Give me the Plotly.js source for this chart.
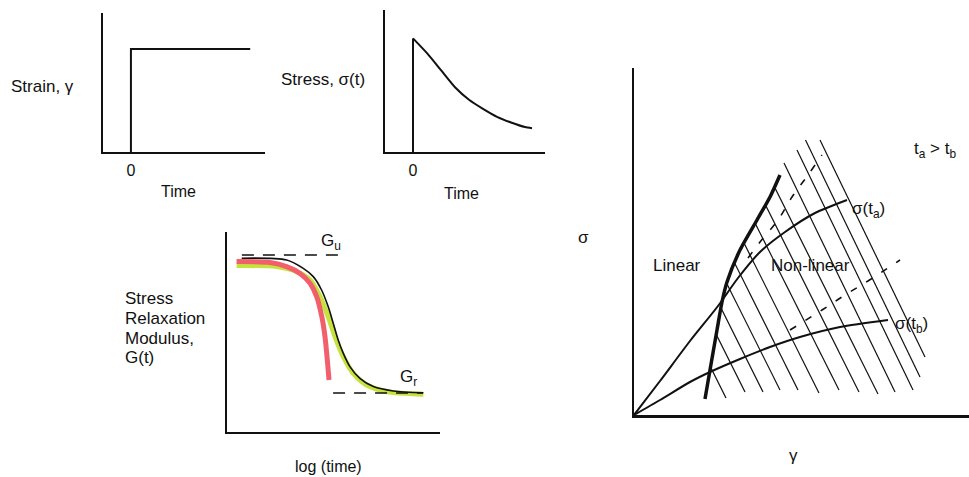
<!DOCTYPE html>
<html>
<head>
<meta charset="utf-8">
<script src="https://cdn.plot.ly/plotly-3.0.1.min.js"></script>
<style>html,body{margin:0;padding:0;background:#fff;}#chart{width:969px;height:477px;}</style>
</head>
<body>
<div id="chart"></div>
<script>
// ---------- Panel 1: step strain ----------
const strainTime  = [0, 0, 4.27];
const strainValue = [0, 1, 1];
const zeroTicks = [0];
const zeroTickText = ['0'];

// ---------- Panel 2: stress relaxation vs time ----------
const stressStepTime  = [0, 0];
const stressStepValue = [0, 1];
const stressTime  = [0, 0.5, 1, 1.5, 2, 2.5, 3, 3.5, 4, 4.25];
const stressValue = [1, 0.87, 0.72, 0.57, 0.46, 0.38, 0.31, 0.26, 0.22, 0.21];

// ---------- Panel 3: G(t) vs log(time) ----------
const logTimeBlack = [0.69, 2.80, 3.58, 4.05, 4.44, 4.75, 4.99, 5.22, 5.46, 5.77, 6.24, 6.87, 7.81, 9.22];
const modBlack     = [8.69, 8.60, 8.18, 7.77, 7.10, 6.27, 5.43, 4.60, 3.93, 3.27, 2.68, 2.27, 2.05, 1.96];
const logTimeRed   = [0.45, 2.02, 2.80, 3.43, 3.90, 4.21, 4.45, 4.60, 4.71, 4.79];
const modRed       = [8.52, 8.47, 8.27, 7.93, 7.43, 6.77, 5.77, 4.77, 3.60, 2.60];
const logTimeGreen = [0.45, 2.33, 3.27, 3.90, 4.37, 4.75, 5.07, 5.46, 5.93, 6.56, 7.50, 9.22];
const modGreen     = [8.32, 8.27, 8.02, 7.60, 6.77, 5.77, 4.77, 3.77, 2.93, 2.35, 2.02, 1.89];
const guTime = [0.70, 5.63], guValue = [8.85, 8.85];
const grTime = [4.98, 9.20], grValue = [1.95, 1.95];

// ---------- Panel 4: isochronal stress-strain ----------
const strainA = [0, 26, 56, 84, 104, 126, 151, 181, 213];
const sigmaA  = [0, 34, 74, 109, 137, 163, 183, 202, 215];
const strainB = [0, 26, 56, 76, 106, 136, 166, 206, 254];
const sigmaB  = [0, 15, 33, 43, 56, 68, 78, 88, 95];
const limitStrain = [71, 76, 83, 88, 93, 106, 123, 136, 146];
const limitSigma  = [16, 45, 85, 113, 133, 165, 195, 218, 240];
const dash1Strain = [114, 126, 144, 158, 174, 188];
const dash1Sigma  = [157, 173, 195, 218, 240, 260];
const dash2Strain = [156, 188, 211, 234, 266];
const dash2Sigma  = [85, 105, 120, 134, 155];
// hatch segments: top (strain, sigma) -> bottom (strain, sigma)
const hatchTopStrain = [76.5, 82, 87, 92.5, 100.6, 110, 121, 131.5, 140.5, 150, 163, 171.5, 186];
const hatchTopSigma  = [48, 81, 107, 132, 152, 172, 192, 210, 228, 252, 265, 275, 275];
const hatchBotStrain = [92, 111, 129, 146, 164, 185, 205, 225, 244, 261, 279, 286, 291];
const hatchBotSigma  = [17, 23, 23, 25, 25, 22, 25, 23, 21, 23, 25, 38, 58];

const INK = '#111';
const W = 969, H = 477;
const fx = p => p / W;
const fy = p => 1 - p / H;

const traces = [];
function line(x, y, xa, ya, width, extra) {
  traces.push({
    type: 'scatter', mode: 'lines', x: x, y: y, xaxis: xa, yaxis: ya,
    line: Object.assign({color: INK, width: width}, extra || {}),
    hoverinfo: 'skip'
  });
}

// panel 1
line(strainTime, strainValue, 'x', 'y', 2);
// panel 2
line(stressStepTime, stressStepValue, 'x2', 'y2', 2);
line(stressTime, stressValue, 'x2', 'y2', 2, {shape: 'spline', smoothing: 0.6});
// panel 3
line(logTimeGreen, modGreen, 'x3', 'y3', 5, {color: '#c6e23c', shape: 'spline', smoothing: 0.8});
line(logTimeRed, modRed, 'x3', 'y3', 5, {color: '#f25f6c', shape: 'spline', smoothing: 0.8});
line(logTimeBlack, modBlack, 'x3', 'y3', 1.6, {shape: 'spline', smoothing: 0.8});
line(guTime, guValue, 'x3', 'y3', 1.6, {dash: '12px,9px'});
line(grTime, grValue, 'x3', 'y3', 1.6, {dash: '12px,9px'});
// panel 4 hatching
for (let i = 0; i < hatchTopStrain.length; i++) {
  line([hatchTopStrain[i], hatchBotStrain[i]], [hatchTopSigma[i], hatchBotSigma[i]], 'x4', 'y4', 1.2);
}
line(dash1Strain, dash1Sigma, 'x4', 'y4', 1.6, {dash: '7px,11px', shape: 'spline'});
line(dash2Strain, dash2Sigma, 'x4', 'y4', 1.6, {dash: '7px,11px', shape: 'spline'});
line(strainA, sigmaA, 'x4', 'y4', 2, {shape: 'spline', smoothing: 0.7});
line(strainB, sigmaB, 'x4', 'y4', 2, {shape: 'spline', smoothing: 0.7});
line(limitStrain, limitSigma, 'x4', 'y4', 3.5, {shape: 'spline', smoothing: 0.7});

function axis(domain, range, anchor, extra) {
  return Object.assign({
    domain: domain, range: range, anchor: anchor,
    showline: true, linecolor: INK, linewidth: 2,
    showgrid: false, zeroline: false, showticklabels: false, ticks: '',
    fixedrange: true
  }, extra || {});
}
const FONT = 'Liberation Sans, Arial, sans-serif';
const tickZero = {
  showticklabels: true, tickvals: zeroTicks, ticktext: zeroTickText,
  ticks: 'outside', ticklen: 3, tickcolor: 'rgba(0,0,0,0)',
  tickfont: {family: FONT, size: 16, color: INK}
};

function ann(text, x, y, size, opts) {
  return Object.assign({
    text: text, x: fx(x), y: fy(y), xref: 'paper', yref: 'paper',
    showarrow: false, xanchor: 'center', yanchor: 'middle',
    font: {family: FONT, size: size, color: INK}
  }, opts || {});
}

const layout = {
  width: W, height: H,
  margin: {l: 0, r: 0, t: 0, b: 0},
  paper_bgcolor: '#fff', plot_bgcolor: 'rgba(0,0,0,0)',
  showlegend: false,
  font: {family: FONT, size: 16, color: INK},
  xaxis:  axis([fx(103), fx(265)], [-1, 4.8], 'y', tickZero),
  yaxis:  axis([fy(152), fy(13)], [0, 1.35], 'x'),
  xaxis2: axis([fx(385), fx(545)], [-1, 4.714], 'y2', tickZero),
  yaxis2: axis([fy(152), fy(10)], [0, 1.25], 'x2'),
  xaxis3: axis([fx(227), fx(440)], [0, 10], 'y3'),
  yaxis3: axis([fy(432), fy(232)], [0, 10], 'x3'),
  xaxis4: axis([fx(634), 1], [0, 335], 'y4', {linewidth: 2.5}),
  yaxis4: axis([fy(415), fy(68)], [0, 347], 'x4', {linewidth: 2.5}),
  annotations: [
    ann('Strain, γ', 42, 87, 17),
    ann('Time', 178, 191, 16),
    ann('Stress, σ(t)', 367, 79, 17, {xanchor: 'right'}),
    ann('Time', 461, 193, 16),
    ann('Stress', 123, 298, 17, {xanchor: 'left'}),
    ann('Relaxation', 123, 318, 17, {xanchor: 'left'}),
    ann('Modulus,', 123, 338, 17, {xanchor: 'left'}),
    ann('G(t)', 123, 357, 17, {xanchor: 'left'}),
    ann('log (time)', 328, 466, 16),
    ann('G<sub>u</sub>', 331, 242, 17),
    ann('G<sub>r</sub>', 408, 378, 17),
    ann('σ', 583, 237, 17),
    ann('γ', 793, 455, 17),
    ann('t<sub>a</sub> > t<sub>b</sub>', 935, 150, 17),
    ann('Linear', 677, 265, 17),
    ann('Non-linear', 810, 265, 17),
    ann('σ(t<sub>a</sub>)', 850, 210, 17, {xanchor: 'left'}),
    ann('σ(t<sub>b</sub>)', 893, 325, 17, {xanchor: 'left'})
  ]
};

Plotly.newPlot('chart', traces, layout, {staticPlot: true, displayModeBar: false});
</script>
</body>
</html>
